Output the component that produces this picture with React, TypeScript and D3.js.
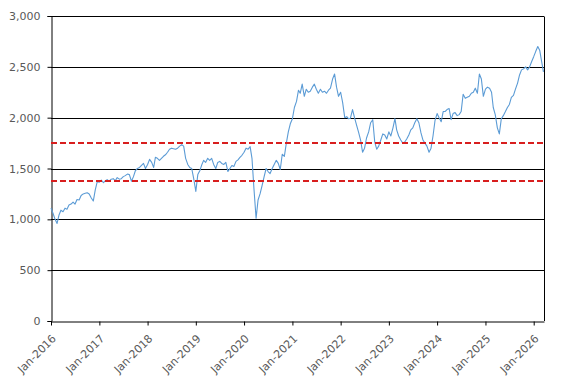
import React, { useEffect, useRef } from "react";
import * as d3 from "d3";

// Semi-monthly readings (1st and 16th of each month)
const values2016 = [1110, 1060, 1000, 960, 1040, 1090, 1075, 1110, 1100, 1140, 1150, 1170, 1150, 1195, 1190, 1235, 1250, 1256, 1262, 1250, 1210, 1180, 1290, 1370];
const values2017 = [1365, 1385, 1360, 1380, 1390, 1375, 1395, 1400, 1380, 1410, 1395, 1400, 1420, 1430, 1445, 1440, 1375, 1420, 1480, 1500, 1510, 1530, 1550, 1500];
const values2018 = [1540, 1590, 1560, 1510, 1610, 1600, 1580, 1600, 1620, 1635, 1660, 1690, 1700, 1695, 1690, 1700, 1720, 1735, 1720, 1600, 1540, 1510, 1500, 1400];
const values2019 = [1275, 1440, 1480, 1540, 1580, 1560, 1600, 1580, 1600, 1540, 1500, 1560, 1570, 1550, 1540, 1560, 1470, 1500, 1530, 1520, 1570, 1585, 1610, 1630];
const values2020 = [1660, 1700, 1690, 1715, 1600, 1300, 1010, 1190, 1250, 1330, 1420, 1500, 1470, 1450, 1500, 1540, 1580, 1550, 1490, 1640, 1620, 1750, 1860, 1940];
const values2021 = [1990, 2100, 2160, 2270, 2240, 2330, 2210, 2280, 2250, 2260, 2300, 2330, 2280, 2240, 2280, 2250, 2260, 2240, 2270, 2290, 2380, 2430, 2300, 2210];
const values2022 = [2250, 2150, 2000, 2010, 1990, 1995, 2080, 2000, 1930, 1860, 1780, 1660, 1700, 1800, 1860, 1950, 1980, 1760, 1690, 1720, 1780, 1840, 1830, 1790];
const values2023 = [1860, 1820, 1900, 1990, 1880, 1820, 1780, 1750, 1760, 1790, 1830, 1880, 1900, 1950, 1990, 1950, 1850, 1780, 1750, 1720, 1660, 1700, 1820, 1970];
const values2024 = [2040, 2000, 1960, 2060, 2060, 2080, 2090, 1980, 2040, 2050, 2020, 2030, 2060, 2230, 2190, 2200, 2210, 2240, 2250, 2290, 2240, 2430, 2380, 2210];
const values2025 = [2280, 2300, 2290, 2250, 2100, 2030, 1900, 1840, 1990, 2020, 2060, 2100, 2130, 2200, 2220, 2280, 2340, 2420, 2470, 2480, 2500, 2470, 2500, 2550];
const values2026 = [2600, 2650, 2700, 2660, 2560, 2450];

const seriesValues = [
  ...values2016, ...values2017, ...values2018, ...values2019, ...values2020,
  ...values2021, ...values2022, ...values2023, ...values2024, ...values2025, ...values2026,
];

// Reference levels (dashed red lines)
const thresholds = [1750, 1378];

const yTicks = [0, 500, 1000, 1500, 2000, 2500, 3000];
const tickYears = [2016, 2017, 2018, 2019, 2020, 2021, 2022, 2023, 2024, 2025, 2026];

const Chart: React.FC<{ width?: number; height?: number }> = ({ width = 572, height = 385 }) => {
  const ref = useRef<SVGSVGElement | null>(null);

  useEffect(() => {
    const margin = { top: 16, right: 28, bottom: 64, left: 51 };
    const w = width - margin.left - margin.right;
    const h = height - margin.top - margin.bottom;

    d3.select(ref.current).selectAll("*").remove();

    const svg = d3
      .select(ref.current)
      .attr("width", width)
      .attr("height", height)
      .append("g")
      .attr("transform", `translate(${margin.left},${margin.top})`);

    const data = seriesValues.map((v, i) => ({
      date: new Date(2016, Math.floor(i / 2), i % 2 ? 16 : 1),
      value: v,
    }));

    const x = d3
      .scaleTime()
      .domain([new Date(2016, 0, 1), new Date(2026, 2, 20)])
      .range([0, w]);

    const y = d3.scaleLinear().domain([0, 3000]).range([h, 0]);

    const labelColor = "#595959";
    const font = "'DejaVu Sans', Verdana, sans-serif";

    // Gridlines
    svg
      .append("g")
      .selectAll("line")
      .data(yTicks.filter((t) => t > 0))
      .enter()
      .append("line")
      .attr("x1", 0)
      .attr("x2", w)
      .attr("y1", (d) => Math.round(y(d)) + 0.5)
      .attr("y2", (d) => Math.round(y(d)) + 0.5)
      .attr("stroke", "#000")
      .attr("stroke-width", 1);

    // Right border
    svg
      .append("line")
      .attr("x1", w + 0.5)
      .attr("x2", w + 0.5)
      .attr("y1", Math.round(y(3000)) + 0.5)
      .attr("y2", h)
      .attr("stroke", "#000");

    // Y axis
    const yAxis = svg
      .append("g")
      .attr("transform", "translate(0.5,0)")
      .call(
        d3
          .axisLeft(y)
          .tickValues(yTicks)
          .tickSize(4)
          .tickPadding(7)
          .tickFormat((d) => d3.format(",")(Number(d))),
      );
    yAxis.select(".domain").attr("stroke", "#000");
    yAxis.selectAll("line").attr("stroke", "#000");
    yAxis
      .selectAll("text")
      .attr("fill", labelColor)
      .style("font-family", font)
      .style("font-size", "11px");

    // X axis
    const xAxis = svg
      .append("g")
      .attr("transform", `translate(0,${Math.round(h) + 0.5})`)
      .call(
        d3
          .axisBottom(x)
          .tickValues(tickYears.map((yr) => new Date(yr, 0, 1)))
          .tickSize(4)
          .tickSizeOuter(0)
          .tickFormat((d) => d3.timeFormat("%b-%Y")(d as Date)),
      );
    xAxis.select(".domain").attr("stroke", "#000");
    xAxis.selectAll("line").attr("stroke", "#000");
    xAxis
      .selectAll("text")
      .attr("fill", labelColor)
      .style("font-family", font)
      .style("font-size", "11px")
      .style("text-anchor", "end")
      .attr("x", 0)
      .attr("y", 0)
      .attr("dy", "0.35em")
      .attr("transform", "translate(2.5,15) rotate(-45)");

    // Series line
    const line = d3
      .line<{ date: Date; value: number }>()
      .x((d) => x(d.date))
      .y((d) => y(d.value));

    svg
      .append("path")
      .datum(data)
      .attr("fill", "none")
      .attr("stroke", "#5B9BD5")
      .attr("stroke-width", 1.1)
      .attr("stroke-linejoin", "round")
      .attr("d", line);

    // Dashed threshold lines
    svg
      .append("g")
      .selectAll("line")
      .data(thresholds)
      .enter()
      .append("line")
      .attr("x1", 0)
      .attr("x2", w)
      .attr("y1", (d) => y(d))
      .attr("y2", (d) => y(d))
      .attr("stroke", "#D81E1E")
      .attr("stroke-width", 2)
      .attr("stroke-dasharray", "6,3");
  }, [width, height]);

  return <svg ref={ref} style={{ position: "absolute", left: 0, top: 0 }}></svg>;
};

export default function App() {
  return <Chart />;
}
